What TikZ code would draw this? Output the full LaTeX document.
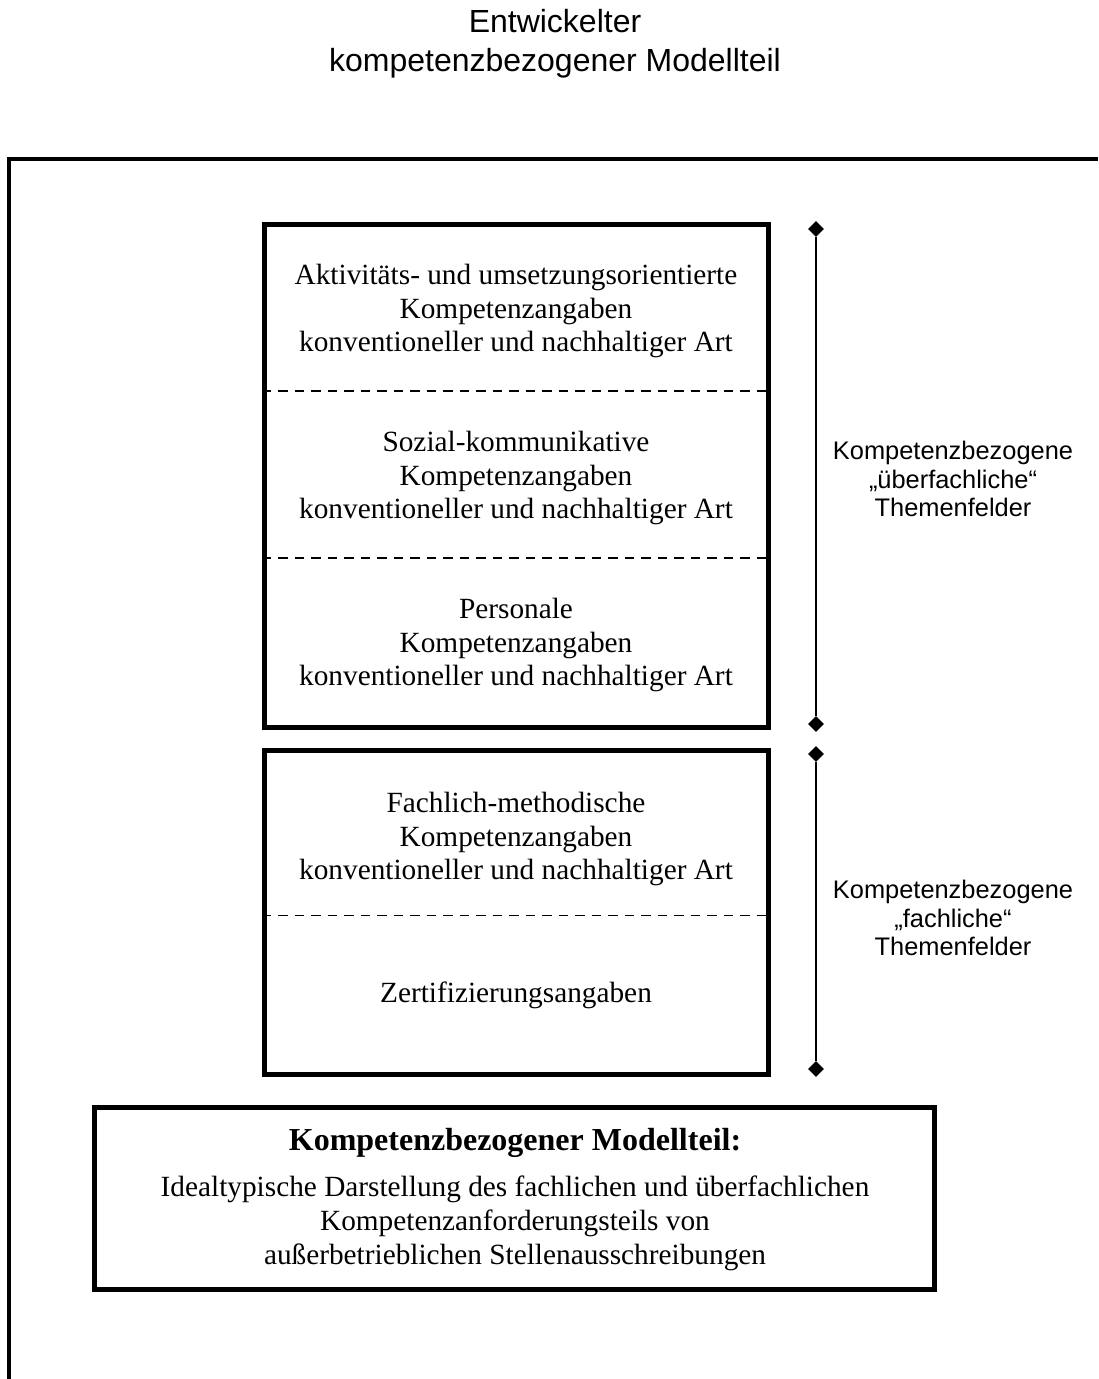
\documentclass[tikz,border=0pt]{standalone}
\usepackage{fontspec}
\setmainfont{Liberation Serif}
\newfontfamily\labelfont{Liberation Sans}
\usetikzlibrary{shapes.geometric}
\begin{document}
\begin{tikzpicture}[x=1pt,y=-1pt,
  frame/.style={line width=4.5pt, line join=miter},
  panel/.style={draw, line width=5pt, inner sep=0pt},
  divider/.style={line width=1.6pt, dash pattern=on 9.5pt off 7pt},
  boxtext/.style={align=center, inner sep=0pt, font=\fontsize{29.3}{33.6}\selectfont},
  boldtext/.style={align=center, inner sep=0pt, font=\bfseries\fontsize{32}{36}\selectfont},
  sidetext/.style={align=center, inner sep=0pt, font=\labelfont\fontsize{25.4}{28.6}\selectfont},
  headtext/.style={align=center, inner sep=0pt, font=\labelfont\fontsize{32}{39}\selectfont},
  tip/.style={diamond, fill=black, inner sep=0pt, minimum width=16pt, minimum height=16pt},
  bracket/.style={line width=1.8pt}]
\useasboundingbox (0,0) rectangle (1098,1379);

% heading
\node[headtext] (heading) at (555,43.5) {Entwickelter\\kompetenzbezogener Modellteil};

% open outer frame
\draw[frame] (1098,159) -- (9,159) -- (9,1379);

% upper panel with three sections
\node[panel, minimum width=504pt, minimum height=503.5pt] (upper) at (516,475.75) {};
\draw[divider] (upper.west |- 0,391) -- (upper.east |- 0,391);
\draw[divider] (upper.west |- 0,558) -- (upper.east |- 0,558);
\node[boxtext] (aktiv) at (516,311) {Aktivitäts- und umsetzungsorientierte\\Kompetenzangaben\\konventioneller und nachhaltiger Art};
\node[boxtext] (sozial) at (516,478) {Sozial-kommunikative\\Kompetenzangaben\\konventioneller und nachhaltiger Art};
\node[boxtext] (personal) at (516,645) {Personale\\Kompetenzangaben\\konventioneller und nachhaltiger Art};

% lower panel with two sections
\node[panel, minimum width=504pt, minimum height=324pt] (lower) at (516,912.5) {};
\draw[divider] (lower.west |- 0,915.5) -- (lower.east |- 0,915.5);
\node[boxtext] (fach) at (516,839) {Fachlich-methodische\\Kompetenzangaben\\konventioneller und nachhaltiger Art};
\node[boxtext] (zert) at (516,995) {Zertifizierungsangaben};

% summary panel
\node[panel, minimum width=840pt, minimum height=182pt] (summary) at (514.5,1198.5) {};
\node[boldtext] (sumhead) at (515,1142.5) {Kompetenzbezogener Modellteil:};
\node[boxtext, font=\fontsize{29.3}{34}\selectfont] (sumbody) at (515,1223.5) {Idealtypische Darstellung des fachlichen und überfachlichen\\Kompetenzanforderungsteils von\\außerbetrieblichen Stellenausschreibungen};

% brackets on the right
\node[tip] (ua) at (816,229) {};
\node[tip] (ub) at (816,724) {};
\draw[bracket] (ua) -- (ub);
\node[tip] (la) at (816,754) {};
\node[tip] (lb) at (816,1069) {};
\draw[bracket] (la) -- (lb);

\node[sidetext] (ulabel) at (953,479) {Kompetenzbezogene\\„überfachliche“\\Themenfelder};
\node[sidetext] (llabel) at (953,918) {Kompetenzbezogene\\„fachliche“\\Themenfelder};
\end{tikzpicture}
\end{document}
